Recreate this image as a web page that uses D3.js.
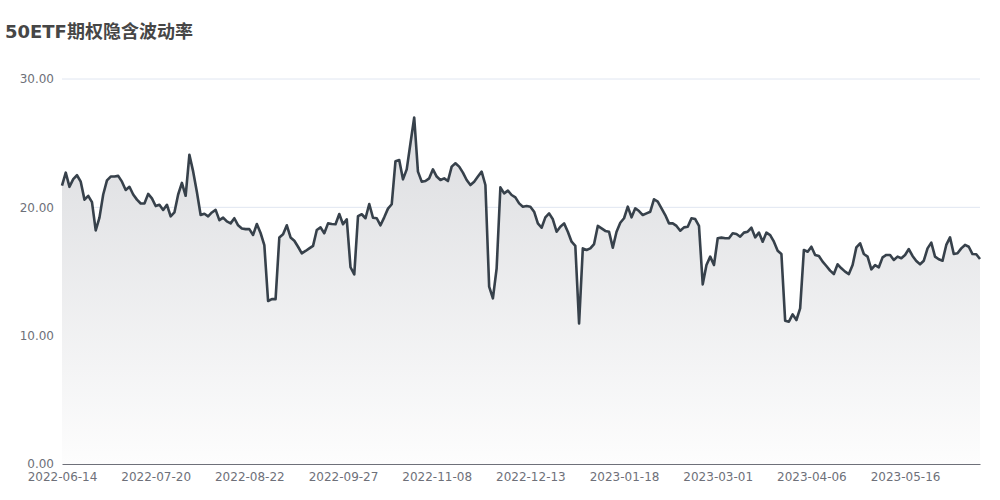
<!DOCTYPE html>
<html>
<head>
<meta charset="utf-8">
<script src="https://cdn.jsdelivr.net/npm/d3@7"></script>
<style>
  html, body { margin: 0; padding: 0; background: #ffffff; }
  svg { display: block; }
</style>
</head>
<body>
<svg id="chart" width="1000" height="500"></svg>
<script>
const titleText = "50ETF期权隐含波动率";

const dates = [
  "2022-06-14","2022-06-15","2022-06-16","2022-06-17","2022-06-20","2022-06-21","2022-06-22","2022-06-23","2022-06-27","2022-06-28",
  "2022-06-29","2022-06-30","2022-07-01","2022-07-04","2022-07-05","2022-07-06","2022-07-07","2022-07-08","2022-07-11","2022-07-12",
  "2022-07-13","2022-07-14","2022-07-15","2022-07-18","2022-07-19","2022-07-20",
  "2022-07-21","2022-07-22","2022-07-24","2022-07-25","2022-07-26","2022-07-27","2022-07-28","2022-07-29","2022-08-01","2022-08-02",
  "2022-08-03","2022-08-04","2022-08-05","2022-08-07","2022-08-08","2022-08-09","2022-08-10","2022-08-11","2022-08-12","2022-08-15",
  "2022-08-16","2022-08-17","2022-08-18","2022-08-19","2022-08-22",
  "2022-08-23","2022-08-24","2022-08-25","2022-08-26","2022-08-29","2022-08-30","2022-08-31","2022-09-01","2022-09-02","2022-09-05",
  "2022-09-06","2022-09-07","2022-09-08","2022-09-09","2022-09-13","2022-09-14","2022-09-15","2022-09-16","2022-09-19","2022-09-20",
  "2022-09-21","2022-09-22","2022-09-23","2022-09-26","2022-09-27",
  "2022-09-28","2022-09-29","2022-09-30","2022-10-10","2022-10-11","2022-10-12","2022-10-13","2022-10-14","2022-10-17","2022-10-18",
  "2022-10-19","2022-10-20","2022-10-21","2022-10-24","2022-10-25","2022-10-26","2022-10-27","2022-10-28","2022-10-31","2022-11-01",
  "2022-11-02","2022-11-03","2022-11-04","2022-11-07","2022-11-08",
  "2022-11-09","2022-11-10","2022-11-11","2022-11-14","2022-11-15","2022-11-16","2022-11-17","2022-11-18","2022-11-21","2022-11-22",
  "2022-11-23","2022-11-24","2022-11-25","2022-11-28","2022-11-29","2022-11-30","2022-12-01","2022-12-02","2022-12-05","2022-12-06",
  "2022-12-07","2022-12-08","2022-12-09","2022-12-12","2022-12-13",
  "2022-12-14","2022-12-15","2022-12-16","2022-12-19","2022-12-20","2022-12-21","2022-12-22","2022-12-23","2022-12-26","2022-12-27",
  "2022-12-28","2022-12-29","2022-12-30","2023-01-03","2023-01-04","2023-01-05","2023-01-06","2023-01-09","2023-01-10","2023-01-11",
  "2023-01-12","2023-01-13","2023-01-16","2023-01-17","2023-01-18",
  "2023-01-19","2023-01-20","2023-01-30","2023-01-31","2023-02-01","2023-02-02","2023-02-03","2023-02-06","2023-02-07","2023-02-08",
  "2023-02-09","2023-02-10","2023-02-13","2023-02-14","2023-02-15","2023-02-16","2023-02-17","2023-02-20","2023-02-21","2023-02-22",
  "2023-02-23","2023-02-24","2023-02-27","2023-02-28","2023-03-01",
  "2023-03-02","2023-03-03","2023-03-06","2023-03-07","2023-03-08","2023-03-09","2023-03-10","2023-03-13","2023-03-14","2023-03-15",
  "2023-03-16","2023-03-17","2023-03-20","2023-03-21","2023-03-22","2023-03-23","2023-03-24","2023-03-27","2023-03-28","2023-03-29",
  "2023-03-30","2023-03-31","2023-04-03","2023-04-04","2023-04-06",
  "2023-04-07","2023-04-10","2023-04-11","2023-04-12","2023-04-13","2023-04-14","2023-04-17","2023-04-18","2023-04-19","2023-04-20",
  "2023-04-21","2023-04-24","2023-04-25","2023-04-26","2023-04-27","2023-04-28","2023-05-04","2023-05-05","2023-05-08","2023-05-09",
  "2023-05-10","2023-05-11","2023-05-12","2023-05-15","2023-05-16",
  "2023-05-17","2023-05-18","2023-05-19","2023-05-22","2023-05-23","2023-05-24","2023-05-25","2023-05-26","2023-05-29","2023-05-30",
  "2023-05-31","2023-06-01","2023-06-02","2023-06-05","2023-06-06","2023-06-07","2023-06-08","2023-06-09","2023-06-12","2023-06-13"
];

const ivValues = [
  21.7,22.7,21.6,22.2,22.5,22.0,20.6,20.9,20.4,18.2,
  19.2,21.0,22.1,22.4,22.4,22.45,22.0,21.35,21.6,21.0,
  20.6,20.3,20.3,21.05,20.7,20.1,20.2,19.8,20.2,19.3,
  19.6,21.0,21.9,20.9,24.1,22.8,21.2,19.4,19.5,19.3,
  19.6,19.8,19.0,19.2,18.9,18.75,19.15,18.6,18.35,18.3,
  18.3,17.85,18.7,18.0,17.05,12.7,12.85,12.85,17.65,17.9,
  18.6,17.65,17.4,16.93,16.42,16.6,16.8,17.0,18.23,18.44,
  17.98,18.75,18.7,18.68,19.48,18.68,19.07,15.33,14.78,19.32,
  19.46,19.15,20.26,19.19,19.15,18.6,19.22,19.9,20.24,23.6,
  23.69,22.18,22.96,24.99,27.0,22.78,22.0,22.05,22.26,22.96,
  22.4,22.13,22.26,22.05,23.17,23.43,23.17,22.7,22.13,21.74,
  22.0,22.4,22.78,21.74,13.82,12.91,15.25,21.56,21.09,21.3,
  20.96,20.78,20.31,20.05,20.1,20.05,19.66,18.75,18.41,19.22,
  19.53,19.07,18.1,18.49,18.75,18.1,17.32,16.99,10.96,16.8,
  16.68,16.8,17.14,18.55,18.36,18.16,18.1,16.86,18.1,18.8,
  19.15,20.05,19.22,19.92,19.71,19.4,19.53,19.66,20.63,20.44,
  19.92,19.4,18.75,18.75,18.55,18.18,18.44,18.49,19.15,19.09,
  18.55,14.0,15.5,16.16,15.5,17.59,17.64,17.59,17.59,17.98,
  17.92,17.71,18.03,18.1,18.41,17.66,18.03,17.32,18.03,17.84,
  17.32,16.62,16.36,11.17,11.09,11.66,11.22,12.13,16.68,16.54,
  16.93,16.29,16.21,15.77,15.43,15.07,14.8,15.56,15.25,14.99,
  14.8,15.5,16.88,17.2,16.36,16.16,15.17,15.5,15.33,16.1,
  16.29,16.29,15.9,16.16,16.03,16.29,16.75,16.21,15.82,15.56,
  15.84,16.8,17.25,16.16,15.95,15.84,17.07,17.66,16.36,16.42,
  16.8,17.07,16.93,16.36,16.34,15.97
];

const yTicks = [0, 10, 20, 30];
const xLabelEvery = 25;

const data = dates.map((d, i) => ({ date: d, value: ivValues[i] }));

const svg = d3.select("#chart");
const fontFamily = "'DejaVu Sans', 'Noto Sans CJK SC', sans-serif";
const plotLeft = 62, plotRight = 980, plotTop = 79, plotBottom = 464;

const x = d3.scalePoint().domain(dates).range([plotLeft, plotRight]).padding(0);
const y = d3.scaleLinear().domain([0, 30]).range([plotBottom, plotTop]);

// title
svg.append("text")
  .attr("x", 5).attr("y", 38)
  .attr("font-family", fontFamily)
  .attr("font-size", 18).attr("font-weight", "bold")
  .attr("fill", "#464646")
  .text(titleText);

// gradient
const defs = svg.append("defs");
const grad = defs.append("linearGradient")
  .attr("id", "areaGrad")
  .attr("gradientUnits", "userSpaceOnUse")
  .attr("x1", 0).attr("x2", 0)
  .attr("y1", y(d3.max(ivValues))).attr("y2", plotBottom);
grad.append("stop").attr("offset", "0%").attr("stop-color", "#dcdde0");
grad.append("stop").attr("offset", "100%").attr("stop-color", "#fdfdfd");

// grid lines
svg.append("g").selectAll("line")
  .data(yTicks.filter(t => t !== 0))
  .join("line")
  .attr("x1", plotLeft).attr("x2", plotRight)
  .attr("y1", d => y(d)).attr("y2", d => y(d))
  .attr("stroke", "#e0e6f1").attr("stroke-width", 1);

// area
const area = d3.area()
  .x(d => x(d.date))
  .y0(plotBottom)
  .y1(d => y(d.value));
svg.append("path").datum(data)
  .attr("d", area)
  .attr("fill", "url(#areaGrad)");

// y axis labels
const yAxis = d3.axisLeft(y).tickValues(yTicks).tickFormat(d3.format(".2f")).tickSize(0).tickPadding(8);
const gy = svg.append("g").attr("transform", `translate(${plotLeft},0)`).call(yAxis);
gy.select(".domain").remove();
gy.selectAll("text").attr("font-family", fontFamily).attr("font-size", 12).attr("fill", "#6e7079");

// x axis
const xAxis = d3.axisBottom(x)
  .tickValues(dates.filter((d, i) => i % xLabelEvery === 0))
  .tickSize(0).tickPadding(8);
const gx = svg.append("g").attr("transform", `translate(0,${plotBottom})`).call(xAxis);
gx.select(".domain").attr("stroke", "#6e7079").attr("stroke-width", 1);
gx.selectAll("text").attr("font-family", fontFamily).attr("font-size", 12).attr("fill", "#6e7079");

// line
const line = d3.line()
  .x(d => x(d.date))
  .y(d => y(d.value));
svg.append("path").datum(data)
  .attr("d", line)
  .attr("fill", "none")
  .attr("stroke", "#37414b")
  .attr("stroke-width", 2.6)
  .attr("stroke-linejoin", "round");
</script>
</body>
</html>
